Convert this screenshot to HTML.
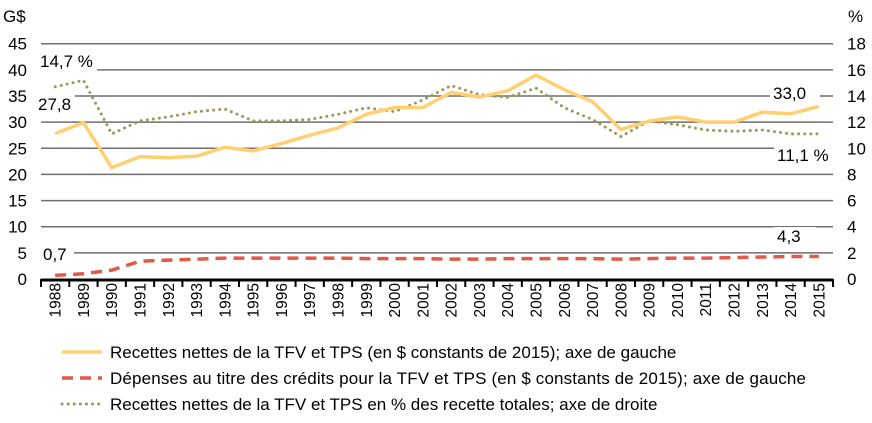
<!DOCTYPE html>
<html><head><meta charset="utf-8"><style>
body{margin:0;background:#fff;font-family:"Liberation Sans",sans-serif;}
svg text{font-family:"Liberation Sans",sans-serif;fill:#000;}
</style></head><body>
<svg id="c" width="872" height="418"></svg>
<script>
const years=[1988,1989,1990,1991,1992,1993,1994,1995,1996,1997,1998,1999,2000,2001,2002,2003,2004,2005,2006,2007,2008,2009,2010,2011,2012,2013,2014,2015];
const recettes=[27.8,29.9,21.3,23.4,23.2,23.5,25.2,24.5,25.9,27.5,28.9,31.5,32.8,32.8,35.7,34.8,36.0,39.0,36.2,33.9,28.6,30.2,31.0,30.0,30.0,31.9,31.6,33.0];
const depenses=[0.7,1.0,1.7,3.4,3.6,3.8,4.0,4.0,4.0,4.0,4.0,3.9,3.9,3.9,3.8,3.8,3.9,3.9,3.9,3.9,3.8,3.9,4.0,4.0,4.1,4.2,4.3,4.3];
const pct=[14.7,15.2,11.1,12.1,12.4,12.8,13.0,12.1,12.1,12.2,12.6,13.1,12.8,13.7,14.8,14.1,13.9,14.6,13.1,12.2,10.9,12.1,11.8,11.4,11.3,11.4,11.1,11.1];
const leftTicks=[0,5,10,15,20,25,30,35,40,45];
const rightTicks=[0,2,4,6,8,10,12,14,16,18];
const NS="http://www.w3.org/2000/svg",svg=document.getElementById('c');
const X0=41,X1=833,Y0=279,Y1=43.7;
const cw=(X1-X0)/years.length;
const x=i=>X0+cw*(i+0.5);
const yl=v=>Y0-(v/45)*(Y0-Y1);
const yr=v=>Y0-(v/18)*(Y0-Y1);
function mk(t,a,p){const e=document.createElementNS(NS,t);for(const k in a)e.setAttribute(k,a[k]);(p||svg).appendChild(e);return e;}
leftTicks.forEach((v,i)=>{
 if(v>0){const g=mk('line',{x1:X0,x2:X1,y1:yl(v),y2:yl(v),stroke:'#6e6e6e','stroke-width':1.5});
 
 }
 const t=mk('text',{x:27,y:yl(v)+6,'text-anchor':'end','font-size':17});t.textContent=v;
 
 
});
rightTicks.forEach(v=>{
 const t=mk('text',{x:847,y:yr(v)+6,'font-size':17});t.textContent=v;
 
 
});
let a=mk('text',{x:3,y:22,'font-size':17});a.textContent='G$';
a=mk('text',{x:848,y:22,'font-size':17});a.textContent='%';
const ax=mk('line',{x1:X0,x2:X1,y1:Y0+1,y2:Y0+1,stroke:'#000','stroke-width':3});


for(let i=0;i<=years.length;i++){const tk=mk('line',{x1:X0+cw*i,x2:X0+cw*i,y1:Y0,y2:Y0+8,stroke:'#000','stroke-width':2});
 
 }
years.forEach((yv,i)=>{const t=mk('text',{x:0,y:0,'font-size':15.5,'text-anchor':'end',transform:`translate(${x(i)+5.5},${Y0+4}) rotate(-90)`});t.textContent=yv;
 
 });
function lab(tx,xx,yy,w){mk('rect',{x:xx-3,y:yy-15,width:w,height:19,fill:'#fff'});const t=mk('text',{x:xx,y:yy,'font-size':17});t.textContent=tx;
 
 }
lab('14,7 %',40,67,60);lab('27,8',38,110,40);lab('0,7',43,260,34);
lab('33,0',773,99,50);lab('11,1 %',777,161,64);lab('4,3',777,242,42);
function line(data,f,attrs,name){const p=mk('polyline',Object.assign({points:data.map((v,i)=>x(i)+','+f(v)).join(' '),fill:'none'},attrs));
 
 }
line(pct,yr,{stroke:'#9a9a5a','stroke-width':3,'stroke-dasharray':'0.1 6','stroke-linecap':'round'},'series-pct');
line(recettes,yl,{stroke:'#ffcf70','stroke-width':3.5},'series-recettes');
line(depenses,yl,{stroke:'#e05a45','stroke-width':3.5,'stroke-dasharray':'11 7'},'series-depenses');
const leg=[['Recettes nettes de la TFV et TPS (en $ constants de 2015); axe de gauche',{stroke:'#ffcf70','stroke-width':3.5}],
['Dépenses au titre des crédits pour la TFV et TPS (en $ constants de 2015); axe de gauche',{stroke:'#e05a45','stroke-width':3.5,'stroke-dasharray':'11 7'}],
['Recettes nettes de la TFV et TPS en % des recette totales; axe de droite',{stroke:'#9a9a5a','stroke-width':3,'stroke-dasharray':'0.1 6','stroke-linecap':'round'}]];
leg.forEach((l,i)=>{const yy=352+i*26;
 const s=mk('line',Object.assign({x1:62,x2:102,y1:yy,y2:yy},l[1]));
 
 
 const t=mk('text',{x:110,y:yy+6,'font-size':17,textLength:l[0].length>80?696:0});t.textContent=l[0];
 if(l[0].length<=80)t.removeAttribute('textLength');
 
 });
</script>
</body></html>
